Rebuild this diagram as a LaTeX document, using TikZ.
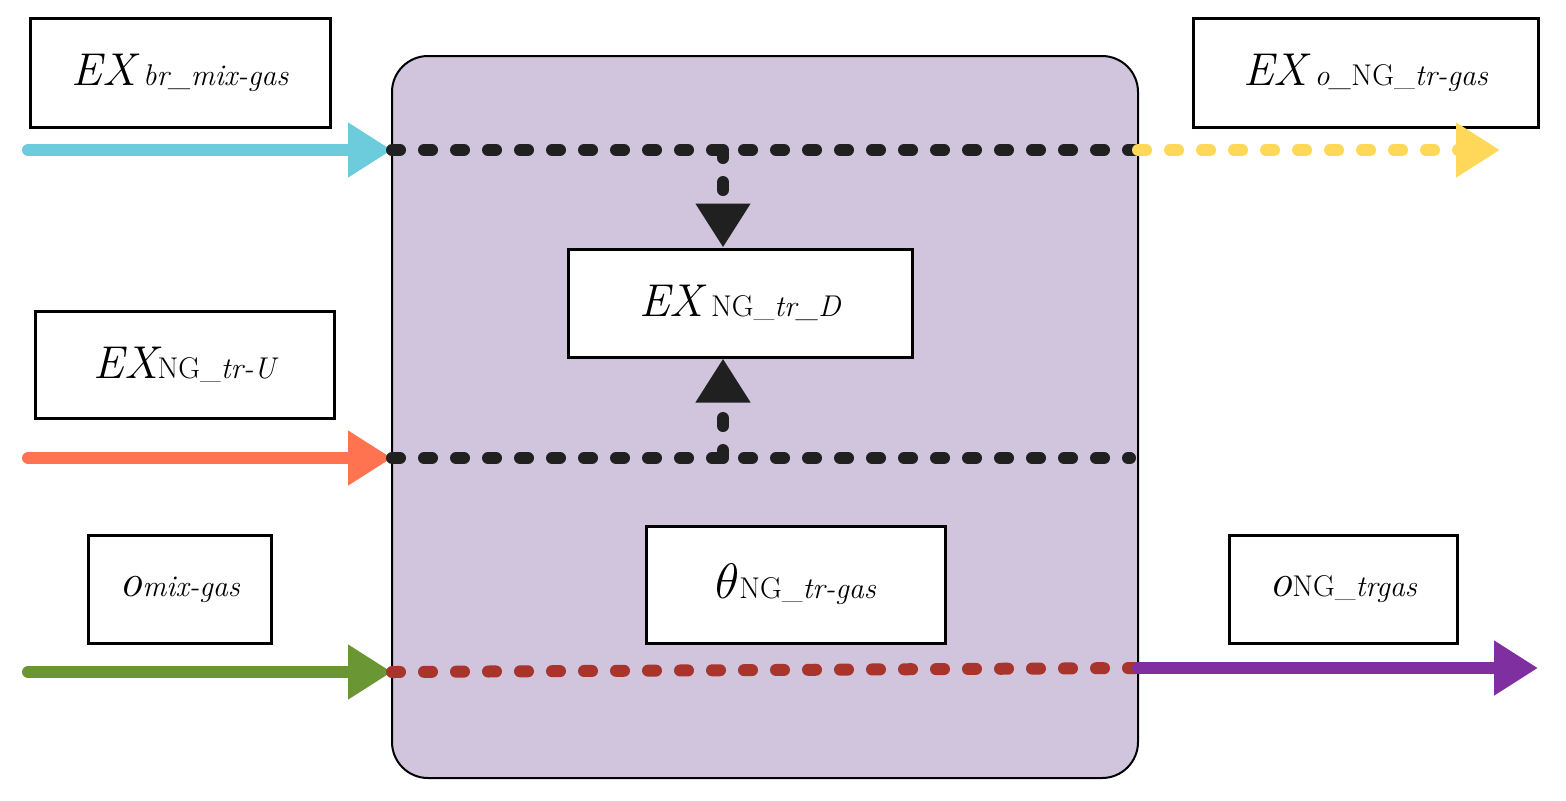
\documentclass[tikz,border=0pt]{standalone}
\usetikzlibrary{arrows.meta}
\begin{document}
\begin{tikzpicture}[x=0.5pt,y=-0.5pt,
  box/.style={draw=black,line width=1.5pt,fill=white,inner sep=0pt},
  sol/.style={line width=6pt,line cap=round},
  dsh/.style={line width=6pt,line cap=round,dash pattern=on 4pt off 12pt},
  tip/.style={-{Triangle[length=22pt,width=26pt]}},
  big/.style={font=\fontsize{23}{26}\selectfont\itshape},
]
\useasboundingbox (0,0) rectangle (1566,800);
\definecolor{bg}{HTML}{D1C4DD}
\definecolor{cy}{HTML}{6CCCDC}
\definecolor{yl}{HTML}{FFD85A}
\definecolor{orc}{HTML}{FF7350}
\definecolor{gr}{HTML}{6A9634}
\definecolor{rd}{HTML}{A8342C}
\definecolor{pu}{HTML}{7F2FA0}
\definecolor{dk}{HTML}{202020}
\node[draw=black,line width=1pt,fill=bg,rounded corners=18pt,minimum width=373pt,minimum height=361pt,inner sep=0pt] (core) at (765,417) {};
\newcommand{\mysub}[1]{{\fontsize{15}{18}\selectfont #1}}
\node[box,minimum width=150pt,minimum height=54.5pt,big] (b1) at (180,72.5) {EX\,\mysub{br\_mix-gas}};
\node[box,minimum width=172.5pt,minimum height=54.5pt,big] (b2) at (1365.5,72.5) {EX\,\mysub{o\_\upshape NG\_\itshape tr-gas}};
\node[box,minimum width=172pt,minimum height=54pt,big] (bd) at (740,303) {EX\,\mysub{\upshape NG\_\itshape tr\_D}};
\node[box,minimum width=149.5pt,minimum height=53.5pt,big] (bu) at (184.5,364.5) {EX\mysub{\upshape NG\_\itshape tr-U}};
\node[box,minimum width=91.5pt,minimum height=54pt,big] (bo) at (179.5,589) {o\mysub{mix-gas}};
\node[box,minimum width=149.5pt,minimum height=58.5pt,big] (bt) at (795.5,584.5) {$\theta$\mysub{\upshape NG\_\itshape tr-gas}};
\node[box,minimum width=114pt,minimum height=54pt,big] (bn) at (1343,589) {o\mysub{\upshape NG\_\itshape trgas}};
% coordinates
\coordinate (c1a) at (28,150); \coordinate (c1b) at (392,150); \coordinate (c1c) at (1138,150); \coordinate (c1d) at (1500,150);
\coordinate (c2a) at (28,458); \coordinate (c2b) at (392,458); \coordinate (c2c) at (1130,458);
\coordinate (c3a) at (28,672); \coordinate (c3b) at (392,672); \coordinate (c3c) at (1138,668); \coordinate (c3d) at (1538,668);
\coordinate (v1) at (723,150); \coordinate (v2) at (723,458);
\draw[sol,cy,tip] (c1a) -- (c1b);
\draw[dsh,dk] (c1b) -- (c1c);
\draw[dsh,yl,tip] (c1c) -- (c1d);
\draw[sol,orc,tip] (c2a) -- (c2b);
\draw[dsh,dk] (c2b) -- (c2c);
\draw[sol,gr,tip] (c3a) -- (c3b);
\draw[dsh,rd] (c3b) -- (c3c);
\draw[sol,pu,tip] (c3c) -- (c3d);
\draw[dsh,dk,tip] (v1) -- (v1 |- bd.north);
\draw[dsh,dk,tip] (v2) -- (v2 |- bd.south);
\end{tikzpicture}
\end{document}
